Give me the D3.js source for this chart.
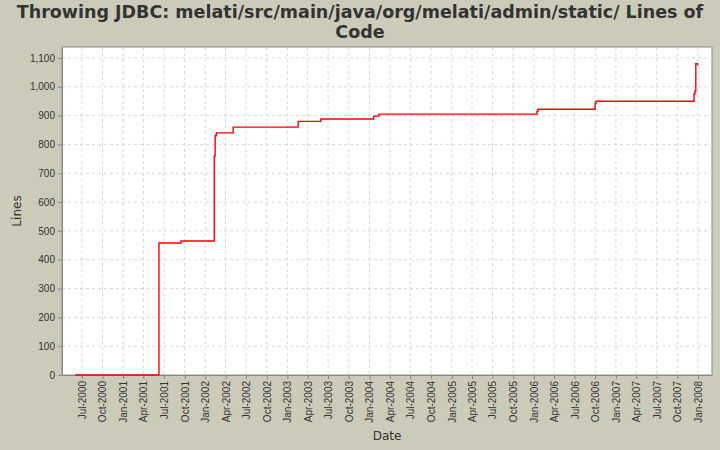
<!DOCTYPE html>
<html><head><meta charset="utf-8">
<script src="https://cdn.jsdelivr.net/npm/d3@7"></script>
<style>body{margin:0;background:#cccbb9}svg{display:block;font-family:"DejaVu Sans",sans-serif}</style>
</head><body><div id="chart"></div>
<script>
const dates = ["2000-06-01","2001-06-09","2001-09-15","2002-02-10","2002-02-14","2002-02-19","2002-05-05","2003-02-18","2003-05-30","2004-01-20","2004-02-12","2006-01-15","2006-01-19","2006-09-30","2006-10-04","2007-12-14","2007-12-18","2007-12-22","2007-12-30"];
const lines = [0,458,465,760,830,840,860,880,888,898,905,915,922,942,950,975,985,1080,1075];
const yTicks = d3.range(0, 1101, 100);

const W = 720, H = 450, m = {l: 62, r: 8, t: 47, b: 75};
const parse = d3.timeParse("%Y-%m-%d");
const data = dates.map((d, i) => ({date: parse(d), value: lines[i]}));

const svg = d3.select("#chart").append("svg").attr("width", W).attr("height", H);
svg.append("rect").attr("width", W).attr("height", H).attr("fill", "#cccbb9");

const x = d3.scaleTime().domain([parse("2000-04-04"), parse("2008-03-03")]).range([m.l, W - m.r]);
const y = d3.scaleLinear().domain([0, 1138]).range([H - m.b, m.t]);
const xTicks = x.ticks(d3.timeMonth.every(3)).filter(d => d.getMonth() % 3 === 0);

svg.append("rect").attr("x", m.l).attr("y", m.t).attr("width", W - m.l - m.r).attr("height", H - m.t - m.b)
    .attr("fill", "#fff").attr("stroke", "#888");

const grid = svg.append("g").attr("stroke", "#d8d8d8").attr("stroke-dasharray", "3,3");
grid.selectAll(".gx").data(xTicks).enter().append("line")
    .attr("x1", d => x(d)).attr("x2", d => x(d)).attr("y1", m.t).attr("y2", H - m.b);
grid.selectAll(".gy").data(yTicks).enter().append("line")
    .attr("x1", m.l).attr("x2", W - m.r).attr("y1", d => y(d)).attr("y2", d => y(d));

const gx = svg.append("g").attr("transform", `translate(0,${H - m.b})`)
    .call(d3.axisBottom(x).tickValues(xTicks).tickFormat(d3.timeFormat("%b-%Y")).tickSize(4).tickSizeOuter(0));
gx.selectAll("text").attr("transform", "rotate(-90)").attr("text-anchor", "end")
    .attr("x", -6).attr("y", 0).attr("dy", "0.35em").style("font-size", "10px").attr("fill", "#333");
const gy = svg.append("g").attr("transform", `translate(${m.l},0)`)
    .call(d3.axisLeft(y).tickValues(yTicks).tickFormat(d3.format(",")).tickSize(4).tickSizeOuter(0));
gy.selectAll("text").style("font-size", "10px").attr("fill", "#333");
svg.selectAll(".domain, .tick line").attr("stroke", "#888");

svg.append("path").datum(data)
    .attr("d", d3.line().x(d => x(d.date)).y(d => y(d.value)).curve(d3.curveStepAfter))
    .attr("fill", "none").attr("stroke", "#f00").attr("stroke-width", 1.4);

svg.append("text").attr("x", W / 2).attr("y", 18).attr("text-anchor", "middle")
    .style("font-size", "17.5px").style("font-weight", "bold").attr("fill", "#333")
    .text("Throwing JDBC: melati/src/main/java/org/melati/admin/static/ Lines of");
svg.append("text").attr("x", W / 2).attr("y", 38).attr("text-anchor", "middle")
    .style("font-size", "17.5px").style("font-weight", "bold").attr("fill", "#333").text("Code");
svg.append("text").attr("x", (m.l + W - m.r) / 2).attr("y", 440).attr("text-anchor", "middle")
    .style("font-size", "12px").attr("fill", "#333").text("Date");
svg.append("text").attr("transform", `translate(21,${(m.t + H - m.b) / 2}) rotate(-90)`).attr("text-anchor", "middle")
    .style("font-size", "12px").attr("fill", "#333").text("Lines");
</script></body></html>
